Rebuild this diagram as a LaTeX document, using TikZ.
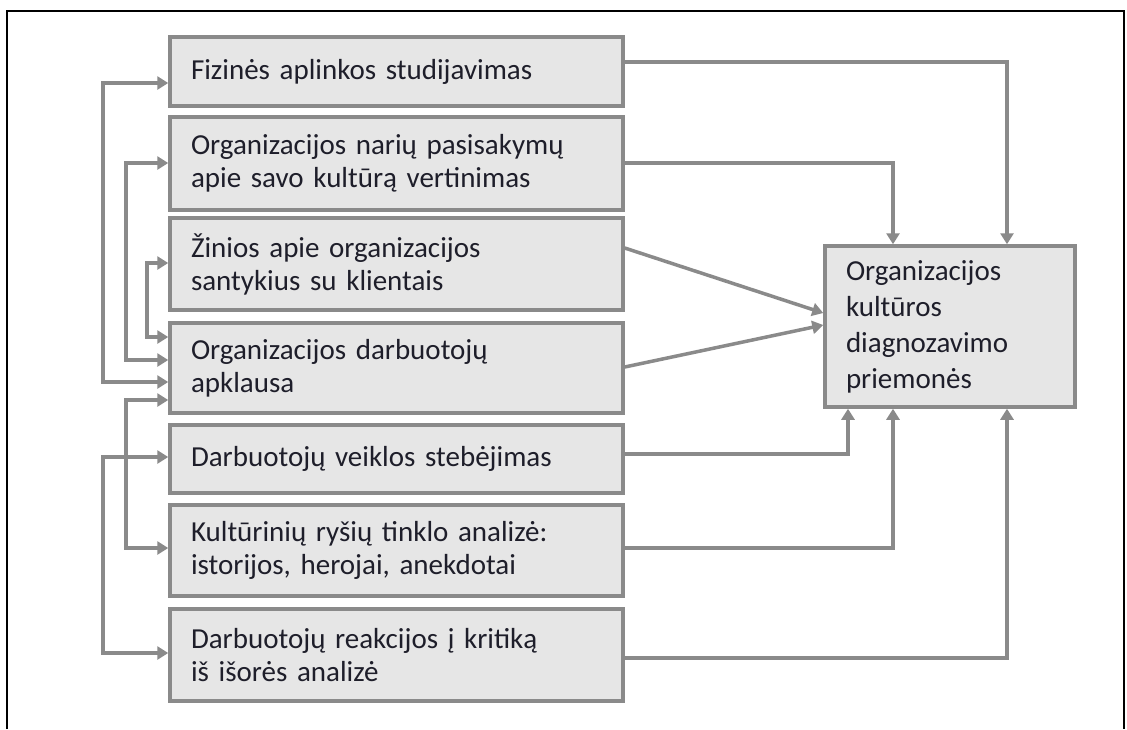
\documentclass[tikz,border=0pt]{standalone}
\usepackage{fontspec}
\setmainfont{Carlito}
\usetikzlibrary{arrows.meta}
\definecolor{linegray}{HTML}{8A8A8A}
\definecolor{boxfill}{HTML}{E6E6E6}
\definecolor{txt}{HTML}{1E1E2A}
\begin{document}
\begin{tikzpicture}[x=1pt,y=-1pt,
  box/.style={draw=linegray, line width=3.5pt, fill=boxfill, text=txt,
    minimum width=453pt, text width=411pt, inner xsep=21pt, inner ysep=0pt,
    align=left, font=\fontsize{29}{33}\selectfont},
  target/.style={draw=linegray, line width=3.5pt, fill=boxfill, text=txt,
    minimum width=250pt, text width=208pt, inner xsep=21pt, inner ysep=0pt,
    minimum height=161pt, align=left, font=\fontsize{29}{36}\selectfont},
  conn/.style={draw=linegray, line width=3.5pt, line join=miter,
    -{Triangle[length=11pt,width=13pt]}},
  link/.style={draw=linegray, line width=3.5pt, line join=miter,
    {Triangle[length=11pt,width=13pt]}-{Triangle[length=11pt,width=13pt]}}]
\useasboundingbox (0,0) rectangle (1127,729);
\fill[white] (0,0) rectangle (1127,729);
% outer frame, open at the bottom
\draw[black, line width=2.5pt] (7,729) -- (7,11) -- (1124,11) -- (1124,729);

% study methods
\node[box, minimum height=69pt] (b1) at (396.5,71.5) {Fizinės aplinkos studijavimas};
\node[box, minimum height=93pt] (b2) at (396.5,163.5) {Organizacijos narių pasisakymų\\apie savo kultūrą vertinimas};
\node[box, minimum height=92pt] (b3) at (396.5,264) {Žinios apie organizacijos\\santykius su klientais};
\node[box, minimum height=90pt] (b4) at (396.5,368) {Organizacijos darbuotojų\\apklausa};
\node[box, minimum height=68pt] (b5) at (396.5,459) {Darbuotojų veiklos stebėjimas};
\node[box, minimum height=91pt] (b6) at (396.5,550.5) {Kultūrinių ryšių tinklo analizė:\\istorijos, herojai, anekdotai};
\node[box, minimum height=92pt] (b7) at (396.5,655) {Darbuotojų reakcijos į kritiką\\iš išorės analizė};

% result
\node[target] (c) at (950,326.5) {Organizacijos\\kultūros\\diagnozavimo\\priemonės};

% connectors into the result
\draw[conn] (b1.east |- 0,62) -- (1007,62) -- (c.north -| 1007,0);
\draw[conn] (b2.east |- 0,163) -- (893,163) -- (c.north -| 893,0);
\draw[conn] (b3.east |- 0,248) -- (c.west |- 0,313);
\draw[conn] (b4.east |- 0,367) -- (c.west |- 0,325);
\draw[conn] (b5.east |- 0,454) -- (848,454) -- (c.south -| 848,0);
\draw[conn] (b6.east |- 0,548) -- (893,548) -- (c.south -| 893,0);
\draw[conn] (b7.east |- 0,658) -- (1007,658) -- (c.south -| 1007,0);

% links between methods on the left
\draw[link] (b1.west |- 0,83) -- (103,83) -- (103,382) -- (b4.west |- 0,382);
\draw[link] (b2.west |- 0,163) -- (126,163) -- (126,360) -- (b4.west |- 0,360);
\draw[link] (b3.west |- 0,263) -- (147,263) -- (147,337) -- (b4.west |- 0,337);
\draw[link] (b4.west |- 0,400) -- (126,400) -- (126,548) -- (b6.west |- 0,548);
\draw[link] (b5.west |- 0,457) -- (103,457) -- (103,653) -- (b7.west |- 0,653);
\end{tikzpicture}
\end{document}
